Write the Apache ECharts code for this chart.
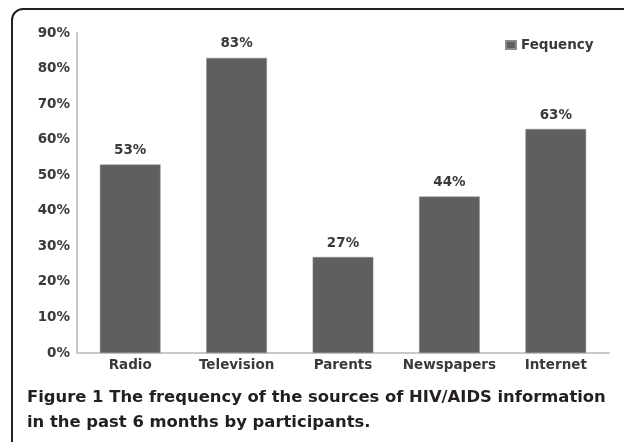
<!DOCTYPE html>
<html><head><meta charset="utf-8">
<script src="https://cdn.jsdelivr.net/npm/echarts@6/dist/echarts.min.js"></script>
<style>html,body{margin:0;padding:0;background:#fff}#c{width:624px;height:442px}</style>
</head><body><div id="c"></div>
<script>
const categories = ['Radio', 'Television', 'Parents', 'Newspapers', 'Internet'];
const values = [53, 83, 27, 44, 63];
const seriesName = 'Fequency';
const yTicks = [0, 10, 20, 30, 40, 50, 60, 70, 80, 90];
const captionLine1 = ['Figure 1', ' The frequency of the sources of HIV/AIDS information'];
const captionLine2 = 'in the past 6 months by participants.';

const chart = echarts.init(document.getElementById('c'));
const font = '"DejaVu Sans", "Noto Sans", sans-serif';
const txt = '#3a3a3a';
chart.setOption({
  animation: false,
  backgroundColor: '#fff',
  textStyle: { fontFamily: font },
  grid: { left: 77, right: 15, top: 33, bottom: 89, containLabel: false },
  legend: {
    data: [seriesName], left: 505, top: 38, padding: 0, itemWidth: 10, itemHeight: 8, itemGap: 5,
    icon: 'rect',
    textStyle: { fontFamily: font, fontSize: 13.5, color: txt, fontWeight: 'bold' }
  },
  xAxis: {
    type: 'category', data: categories,
    axisLine: { lineStyle: { color: '#c8c8c8', width: 2 } },
    axisTick: { show: false },
    axisLabel: { interval: 0, margin: 5, fontSize: 13.5, color: txt, fontWeight: 'bold', fontFamily: font }
  },
  yAxis: {
    type: 'value', min: yTicks[0], max: yTicks[yTicks.length - 1], interval: 10,
    axisLine: { show: true, lineStyle: { color: '#c8c8c8', width: 2 } },
    axisTick: { show: false },
    splitLine: { show: false },
    axisLabel: { margin: 7, fontSize: 13.5, color: txt, fontWeight: 'bold', fontFamily: font, formatter: '{value}%' }
  },
  series: [{
    name: seriesName, type: 'bar', data: values, barWidth: '57%',
    itemStyle: { color: '#5f5f5f', borderColor: '#8a8a8a', borderWidth: 0.5 },
    label: { show: true, position: 'top', distance: 7, formatter: '{c}%', fontSize: 13.5, color: txt, fontWeight: 'bold', fontFamily: font }
  }],
  graphic: [
    { type: 'line', shape: { x1: 12, y1: 442, x2: 12, y2: 20 }, style: { stroke: '#222', lineWidth: 2 } },
    { type: 'arc', shape: { cx: 23, cy: 20, r: 11, startAngle: Math.PI, endAngle: Math.PI * 1.5, clockwise: true }, style: { fill: null, stroke: '#222', lineWidth: 2 } },
    { type: 'line', shape: { x1: 23, y1: 9, x2: 624, y2: 9 }, style: { stroke: '#222', lineWidth: 2 } },
    { type: 'text', left: 27, top: 390, style: {
        text: '{a|' + captionLine1[0] + '}{b|' + captionLine1[1] + '}\n{b|' + captionLine2 + '}',
        rich: {
          a: { fontFamily: font, fontSize: 16.4, fontWeight: 'bold', fill: '#231f20', lineHeight: 25 },
          b: { fontFamily: font, fontSize: 16.4, fontWeight: 'bold', fill: '#231f20', lineHeight: 25 }
        }
      } }
  ]
});
</script></body></html>
